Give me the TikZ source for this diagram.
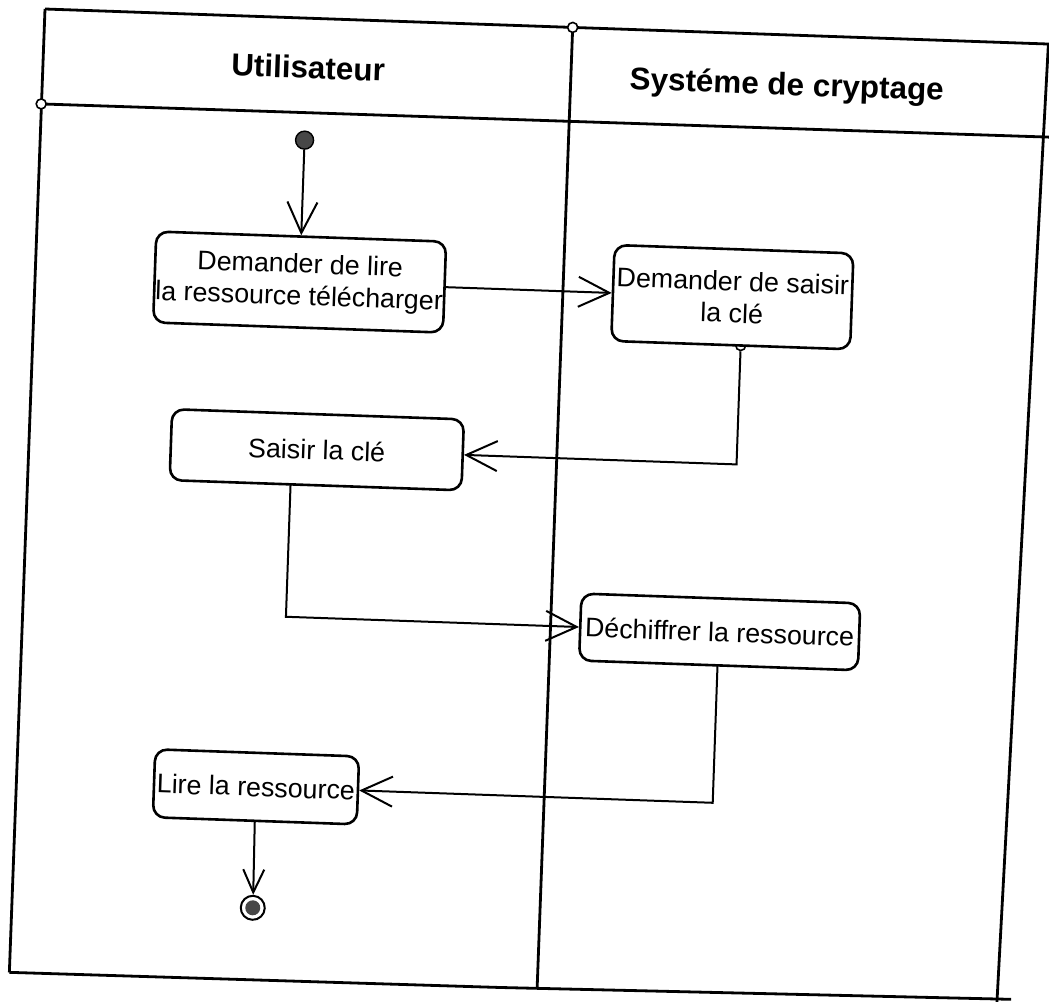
\documentclass[tikz,border=0pt]{standalone}
\usepackage{fontspec}
\setmainfont{Liberation Sans}
\usetikzlibrary{arrows.meta}
\definecolor{dotgray}{HTML}{474747}
\begin{document}
\begin{tikzpicture}[x=1pt,y=-1pt,
  frameline/.style={line width=2.8pt},
  action/.style={draw, fill=white, line width=2.6pt, rounded corners=12pt, inner sep=0pt,
    align=center, font=\fontsize{26.8pt}{32pt}\selectfont},
  lanehead/.style={font=\bfseries\fontsize{31.4pt}{36pt}\selectfont},
  flow/.style={line width=2pt, -{Straight Barb[length=31pt,width=30pt,line width=2pt]}},
  endflow/.style={line width=2pt, -{Straight Barb[length=23pt,width=21pt,line width=2pt]}},
  pinmark/.style={draw, circle, fill=white, line width=1.6pt, inner sep=0pt, minimum size=10pt},
  startdot/.style={circle, draw, fill=dotgray, line width=1.4pt, inner sep=0pt, minimum size=18pt},
  endring/.style={circle, draw, fill=white, line width=2pt, inner sep=0pt, minimum size=24pt},
  endcore/.style={circle, fill=dotgray, inner sep=0pt, minimum size=15pt}]
\fill[white] (0,0) rectangle (1049,1001);
\useasboundingbox (0,0) rectangle (1049,1001);
\clip (0,0) rectangle (1049,1001);
\begin{scope}[shift={(45,9)}, rotate=-2, transform shape]
  % swimlane frame
  \draw[frameline] (0,0) -- (1012,0);
  \draw[frameline] (-1,95) -- (1012,93);
  \draw[frameline] (0,0) -- (-2,964);
  \draw[frameline] (-2,964) -- (489,962) -- (1000,956);
  \draw[frameline] (528,0) -- (526,962);
  \draw[frameline] (1004,0) -- (986,960);
  \node[pinmark] (pl) at (-0.5,95) {};
  \node[pinmark] (pd) at (528,0) {};

  % lane headers
  \node[lanehead] (hu) at (265,49) {Utilisateur};
  \node[lanehead] (hs) at (744,52) {Systéme de cryptage};

  % start point of the key request flow
  \node[pinmark] (a2s) at (707,312) {};

  % actions
  \node[action, minimum width=290pt, minimum height=91pt] (a1) at (264,264)
    {Demander de lire\\la ressource télécharger};
  \node[action, minimum width=239pt, minimum height=96pt] (a2) at (697,264)
    {Demander de saisir\\la clé};
  \node[action, minimum width=292pt, minimum height=71pt] (a3) at (287,431)
    {Saisir la clé};
  \node[action, minimum width=279pt, minimum height=67pt] (a4) at (696,599)
    {Déchiffrer la ressource};
  \node[action, minimum width=204pt, minimum height=68pt] (a5) at (238,770)
    {Lire la ressource};

  % initial and final nodes
  \node[startdot] (init) at (264,122) {};
  \node[endring] (fin) at (239,891) {};
  \node[endcore] (fincore) at (fin) {};

  % bend points
  \coordinate (b1) at (707,431);
  \coordinate (a3s) at (262,466.5);
  \coordinate (b2) at (262,599);
  \coordinate (a4s) at (695,632.5);
  \coordinate (b3) at (695,770);

  % control flows
  \draw[flow] (init) -- (a1.north);
  \draw[flow] (a1.east) -- (a2.west);
  \draw[flow] (a2s.south) -- (b1) -- (a3.east);
  \draw[flow] (a3s) -- (b2) -- (a4.west);
  \draw[flow] (a4s) -- (b3) -- (a5.east);
  \draw[endflow] (a5.south) -- (fin.north);
\end{scope}
\end{tikzpicture}
\end{document}
